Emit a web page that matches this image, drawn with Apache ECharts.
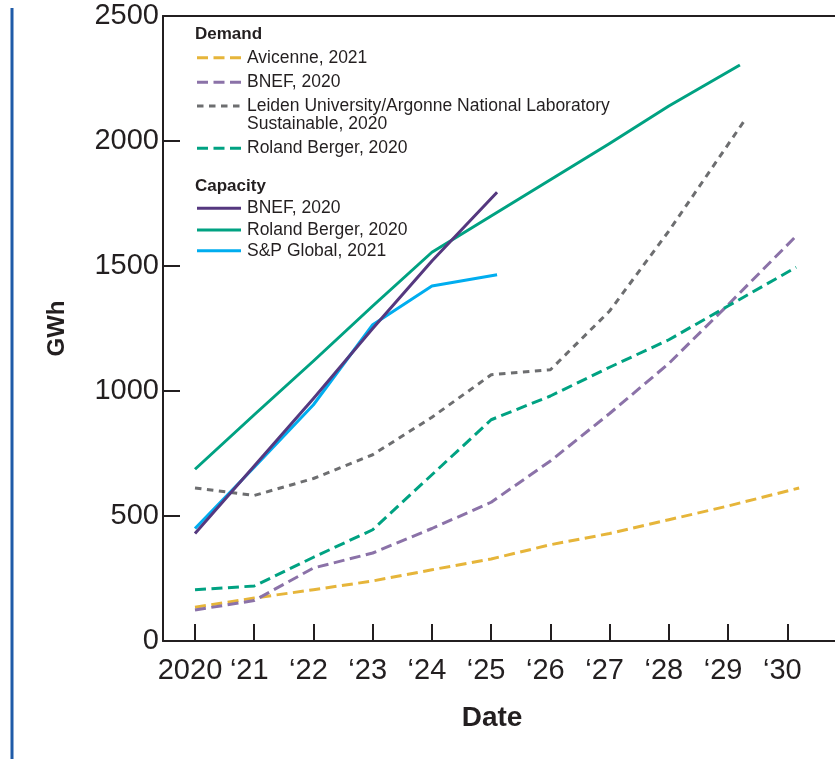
<!DOCTYPE html>
<html>
<head>
<meta charset="utf-8">
<script src="https://cdn.jsdelivr.net/npm/echarts@6/dist/echarts.min.js"></script>
<style>
html,body{margin:0;padding:0;background:#fff;}
#chart{width:835px;height:759px;}
</style>
</head>
<body>
<div id="chart"></div>
<script>
// ---- data ----
const tickYears = [2020, 2021, 2022, 2023, 2024, 2025, 2026, 2027, 2028, 2029, 2030];
const tickLabels = ['2020', '\u201821', '\u201822', '\u201823', '\u201824', '\u201825', '\u201826', '\u201827', '\u201828', '\u201829', '\u201830'];
const yTicks = [0, 500, 1000, 1500, 2000, 2500];

const demandTitle = 'Demand';
const capacityTitle = 'Capacity';

const aviName = 'Avicenne, 2021';
const aviX = [2020, 2021, 2022, 2023, 2024, 2025, 2026, 2027, 2028, 2029, 2030.2];
const aviY = [135, 172, 205, 240, 285, 328, 385, 430, 485, 540, 612];

const bnefDemName = 'BNEF, 2020';
const bnefDemX = [2020, 2021, 2022, 2023, 2024, 2025, 2026, 2027, 2028, 2029, 2030.15];
const bnefDemY = [124, 162, 292, 352, 450, 555, 720, 910, 1110, 1345, 1620];

const leidenName = 'Leiden University/Argonne National Laboratory\nSustainable, 2020';
const leidenX = [2020, 2021, 2022, 2023, 2024, 2025, 2026, 2027, 2028, 2029.3];
const leidenY = [612, 582, 650, 745, 895, 1065, 1085, 1320, 1640, 2090];

const rolandDemName = 'Roland Berger, 2020';
const rolandDemX = [2020, 2021, 2022, 2023, 2024, 2025, 2026, 2027, 2028, 2029, 2030.15];
const rolandDemY = [205, 220, 335, 445, 665, 885, 980, 1095, 1205, 1340, 1495];

const bnefCapName = 'BNEF, 2020';
const bnefCapX = [2020, 2021, 2022, 2023, 2024, 2025.1];
const bnefCapY = [430, 700, 970, 1250, 1520, 1795];

const rolandCapName = 'Roland Berger, 2020';
const rolandCapX = [2020, 2021, 2022, 2023, 2024, 2025, 2026, 2027, 2028, 2029.2];
const rolandCapY = [687, 905, 1120, 1340, 1555, 1700, 1845, 1990, 2140, 2304];

const spName = 'S&P Global, 2021';
const spX = [2020, 2021, 2022, 2023, 2024, 2025.1];
const spY = [450, 695, 945, 1265, 1420, 1465];

// ---- styles ----
const INK = '#231f20';
const FONT = '"Liberation Sans", Arial, Helvetica, sans-serif';
const GRID = {left: 163, top: 16, right: 0, bottom: 118};
const PX_PER_YEAR = 59.23;
const X_MIN = 2020 - (195 - GRID.left) / PX_PER_YEAR;
const X_MAX = 2020 + (835 - GRID.right - 195) / PX_PER_YEAR;

function pairs(xs, ys) { return xs.map((x, i) => [x, ys[i]]); }

const seriesDefs = [
  {group: 'd', name: aviName, x: aviX, y: aviY, color: '#e6b53a', dash: [11, 5.5]},
  {group: 'd', name: bnefDemName, x: bnefDemX, y: bnefDemY, color: '#8b72a8', dash: [11, 5.5]},
  {group: 'd', name: leidenName, x: leidenX, y: leidenY, color: '#6d6e70', dash: [6.5, 5.5]},
  {group: 'd', name: rolandDemName, x: rolandDemX, y: rolandDemY, color: '#00a282', dash: [11, 5.5]},
  {group: 'c', name: rolandCapName, x: rolandCapX, y: rolandCapY, color: '#00a282', dash: null},
  {group: 'c', name: spName, x: spX, y: spY, color: '#00adef', dash: null},
  {group: 'c', name: bnefCapName, x: bnefCapX, y: bnefCapY, color: '#55387f', dash: null}
];

const series = seriesDefs.map(s => ({
  type: 'line',
  name: s.group + ':' + s.name,
  data: pairs(s.x, s.y),
  xAxisIndex: 0,
  showSymbol: false,
  symbol: 'none',
  silent: true,
  animation: false,
  lineStyle: {color: s.color, width: 3, type: s.dash ? s.dash : 'solid', cap: 'butt', join: 'round'}
}));

// ---- legend drawn as graphics ----
const graphics = [];
graphics.push({type: 'line', shape: {x1: 12, y1: 8, x2: 12, y2: 759}, style: {stroke: '#1f5ba8', lineWidth: 3}});

function heading(text, y) {
  graphics.push({type: 'text', style: {text: text, x: 195, y: y, font: 'bold 17px ' + FONT, fill: INK, verticalAlign: 'middle', align: 'left'}});
}
function item(def, y) {
  graphics.push({type: 'line', shape: {x1: 197, y1: y, x2: 241, y2: y},
    style: {stroke: def.color, lineWidth: 3, lineDash: def.dash || null}});
  graphics.push({type: 'text', style: {text: def.name, x: 247, y: y - 9, font: '17.5px ' + FONT, fill: INK,
    verticalAlign: 'top', align: 'left', lineHeight: 18}});
}
const demandDefs = seriesDefs.filter(s => s.group === 'd');
const capDefs = [seriesDefs[6], seriesDefs[4], seriesDefs[5]];
heading(demandTitle, 34);
[57.7, 82.3, 106, 148.3].forEach((y, i) => item(demandDefs[i], y));
heading(capacityTitle, 186);
[208.3, 230, 250.7].forEach((y, i) => item(capDefs[i], y));

const chart = echarts.init(document.getElementById('chart'), null, {renderer: 'canvas'});
chart.setOption({
  backgroundColor: '#ffffff',
  animation: false,
  grid: Object.assign({show: false, containLabel: false}, GRID),
  xAxis: [{
    type: 'value', min: X_MIN, max: X_MAX,
    axisLine: {show: true, onZero: false, lineStyle: {color: INK, width: 2}},
    axisTick: {show: true, inside: true, length: 17, lineStyle: {color: INK, width: 2}, customValues: tickYears},
    axisLabel: {customValues: tickYears, formatter: v => tickLabels[tickYears.indexOf(Math.round(v))],
      fontSize: 29, color: INK, fontFamily: FONT, margin: 15, padding: [0, 10, 0, 0]},
    splitLine: {show: false},
    name: 'Date', nameLocation: 'middle', nameGap: 63,
    nameTextStyle: {fontSize: 28, fontWeight: 'bold', color: INK, fontFamily: FONT, padding: [0, 14, 0, 0]}
  }, {
    type: 'value', position: 'top', min: X_MIN, max: X_MAX,
    axisLine: {show: true, onZero: false, lineStyle: {color: INK, width: 2}},
    axisTick: {show: false}, axisLabel: {show: false}, splitLine: {show: false}
  }],
  yAxis: {
    type: 'value', min: 0, max: 2500, interval: 500,
    axisLine: {show: true, lineStyle: {color: INK, width: 2}},
    axisTick: {show: true, inside: true, length: 17, lineStyle: {color: INK, width: 2}},
    axisLabel: {fontSize: 29, color: INK, fontFamily: FONT, margin: 4, padding: [3, 0, 0, 0], formatter: v => String(v)},
    splitLine: {show: false},
    name: 'GWh', nameLocation: 'middle', nameGap: 94,
    nameTextStyle: {fontSize: 24, fontWeight: 'bold', color: INK, fontFamily: FONT}
  },
  series: series,
  graphic: graphics
});
</script>
</body>
</html>
